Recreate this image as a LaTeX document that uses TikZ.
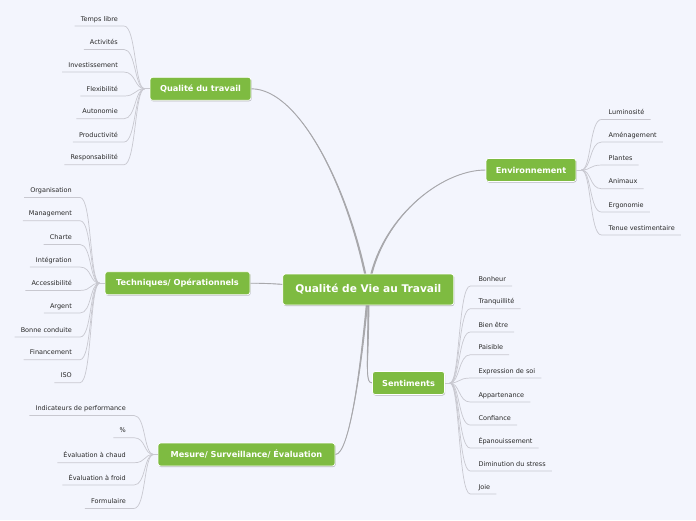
\documentclass[tikz,border=0pt]{standalone}
\usepackage{fontspec}
\setmainfont{DejaVu Sans}
\usetikzlibrary{shadows,backgrounds}
\definecolor{bgcol}{RGB}{243,245,253}
\definecolor{nodegreen}{RGB}{126,187,65}
\definecolor{leaftext}{RGB}{40,40,40}
\definecolor{leafcol}{RGB}{200,200,208}
\definecolor{maincol}{RGB}{168,168,172}
\newcommand{\taperline}[6]{%
  \fill[maincol] ([shift={(-#5,-#6)}]#1) .. controls ([shift={(-#5,-#6)}]#2) and (#3) .. (#4)
     .. controls (#3) and ([shift={(#5,#6)}]#2) .. ([shift={(#5,#6)}]#1) -- cycle;
  \draw[mainconn] (#1) .. controls (#2) and (#3) .. (#4);}
\begin{document}
\begin{tikzpicture}[x=1pt,y=-1pt,
 leaf/.style={font=\fontsize{6.5}{7}\selectfont, text=leaftext, inner sep=0pt},
 branch/.style={fill=nodegreen, draw=white, line width=0.8pt, rounded corners=2.5pt, text=white,
   font=\fontsize{8.2}{9}\selectfont\bfseries, minimum height=23pt, inner sep=0pt,
   drop shadow={shadow xshift=0.6pt,shadow yshift=-1pt,opacity=0.25,fill=black}},
 central/.style={branch, font=\fontsize{10.6}{12}\selectfont\bfseries, minimum height=31pt},
 leafline/.style={draw=leafcol, line width=0.7pt},
 mainconn/.style={draw=maincol, line width=0.9pt},
]
\useasboundingbox (0,0) rectangle (696,520);

% nodes
\node[central, minimum width=171pt] (c) at (368.3,289.5) {Qualité de Vie au Travail};
\node[branch, minimum width=101pt] (qt) at (200.5,88.8) {Qualité du travail};
\node[branch, minimum width=145pt] (te) at (177.5,283.2) {Techniques/ Opérationnels};
\node[branch, minimum width=177pt] (me) at (246.5,454.5) {Mesure/ Surveillance/ Évaluation};
\node[branch, minimum width=90pt] (en) at (531,170) {Environnement};
\node[branch, minimum width=72pt] (se) at (408.5,383) {Sentiments};

\coordinate (qth) at ([xshift=-5pt]qt.west);
\coordinate (teh) at ([xshift=-5pt]te.west);
\coordinate (meh) at ([xshift=-4pt]me.west);
\coordinate (enh) at ([xshift=5pt]en.east);
\coordinate (seh) at ([xshift=5pt]se.east);
\draw[leafline] (qth) -- (qt.west);
\draw[leafline] (teh) -- (te.west);
\draw[leafline] (meh) -- (me.west);
\draw[leafline] (enh) -- (en.east);
\draw[leafline] (seh) -- (se.east);

% Qualité du travail leaves
\foreach \t/\y [count=\i] in {Temps libre/18.3, Activités/41.7, Investissement/64.3, Flexibilité/88.3, Autonomie/111, Productivité/134.3, Responsabilité/157}{
  \node[leaf, anchor=mid east] (qtl\i) at (118,\y) {\t};
  \draw[leafline] ([xshift=-6pt,yshift=-5pt]qtl\i.base west) -- ([xshift=6pt,yshift=-5pt]qtl\i.base east)
    .. controls +(12,0) and +(-10,0) .. (qth);
}
% Techniques leaves
\foreach \t/\y [count=\i] in {Organisation/189.7, Management/213, Charte/236.7, Intégration/259.3, Accessibilité/282.7, Argent/305.3, Bonne conduite/329.3, Financement/352, ISO/375}{
  \node[leaf, anchor=mid east] (tel\i) at (72,\y) {\t};
  \draw[leafline] ([xshift=-6pt,yshift=-5pt]tel\i.base west) -- ([xshift=8pt,yshift=-5pt]tel\i.base east)
    .. controls +(12,0) and +(-10,0) .. (teh);
}
% Mesure leaves
\foreach \t/\y [count=\i] in {Indicateurs de performance/407.7, \%/430, Évaluation à chaud/455, Évaluation à froid/477.3, Formulaire/500.7}{
  \node[leaf, anchor=mid east] (mel\i) at (126,\y) {\t};
  \draw[leafline] ([xshift=-6pt,yshift=-5pt]mel\i.base west) -- ([xshift=8pt,yshift=-5pt]mel\i.base east)
    .. controls +(12,0) and +(-10,0) .. (meh);
}
% Environnement leaves
\foreach \t/\y [count=\i] in {Luminosité/111.7, Aménagement/134.3, Plantes/157.3, Animaux/181, Ergonomie/204.3, Tenue vestimentaire/227.3}{
  \node[leaf, anchor=mid west] (enl\i) at (608.5,\y) {\t};
  \draw[leafline] (enh) .. controls +(10,0) and +(-12,0) .. ([xshift=-7pt,yshift=-5pt]enl\i.base west)
    -- ([xshift=6pt,yshift=-5pt]enl\i.base east);
}
% Sentiments leaves
\foreach \t/\y [count=\i] in {Bonheur/278.3, Tranquillité/301, Bien être/324.3, Paisible/347, Expression de soi/370.3, Appartenance/394.3, Confiance/417.3, Épanouissement/440.3, Diminution du stress/463.3, Joie/486.3}{
  \node[leaf, anchor=mid west] (sel\i) at (478.3,\y) {\t};
  \draw[leafline] (seh) .. controls +(10,0) and +(-12,0) .. ([xshift=-8pt,yshift=-5pt]sel\i.base west)
    -- ([xshift=6pt,yshift=-5pt]sel\i.base east);
}

\begin{pgfonlayer}{background}
  \fill[bgcol] (0,0) rectangle (696,520);
  \taperline{c.center}{350,190}{300,88.8}{qt.east}{1.1}{0}
  \taperline{c.center}{378,220}{440,170}{en.west}{1.1}{0}
  \taperline{c.center}{320,289}{290,283.2}{te.east}{0}{1.0}
  \taperline{c.center}{362,360}{350,454.5}{me.east}{1.1}{0}
  \taperline{c.center}{369,360}{364,383}{se.west}{1.0}{0}
\end{pgfonlayer}
\end{tikzpicture}
\end{document}
